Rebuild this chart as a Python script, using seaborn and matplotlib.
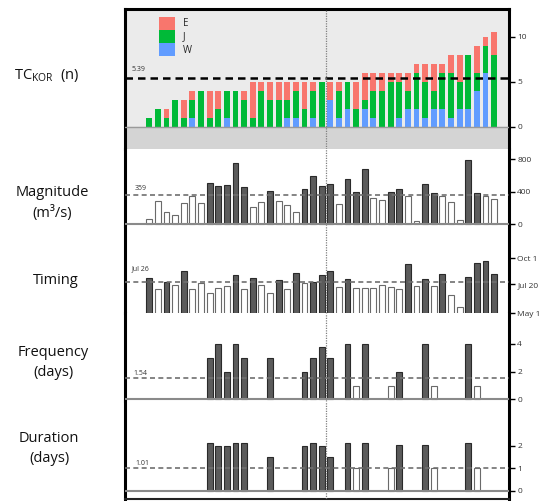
import numpy as np
import pandas as pd
import matplotlib
matplotlib.use("Agg")
import matplotlib.pyplot as plt
import seaborn as sns
from matplotlib.patches import Patch

sns.set_theme(style="white")
plt.rcParams['font.family'] = ['Open Sans', 'DejaVu Sans']
plt.rcParams['mathtext.fontset'] = 'custom'
plt.rcParams['mathtext.rm'] = 'Open Sans'

# ---------------- data ----------------
seasons = list(range(1, 42))
tc_W = [0,0,0,0,0,1,0,0,0,1,0,0,0,0,0,0,1,1,0,1,0,3,1,2,0,2,1,0,0,1,2,2,1,2,2,1,2,2,4,6,0]
tc_J = [1,2,1,3,1,2,4,1,2,3,4,3,1,4,3,3,2,3,2,3,5,0,3,3,2,1,3,4,5,4,2,4,4,2,4,5,3,6,2,3,8]
tc_E = [0,0,1,0,2,1,0,3,2,0,0,1,4,1,2,2,2,1,3,1,0,2,1,0,3,3,2,2,1,1,2,1,2,3,1,2,3,0,3,1,2.5]
magnitude = [70,287,156,111,267,353,258,508,467,484,754,455,209,275,410,287,234,156,435,599,
             470,490,250,562,398,677,328,303,398,435,353,41,500,390,353,275,49,795,381,353,312]
timing_doy = [220,188,208,200,238,188,205,178,191,197,227,188,220,200,178,213,188,233,206,208,
              227,239,194,215,191,190,192,200,194,188,257,196,217,196,229,172,138,222,261,265,231]
frequency = [0,0,0,0,0,0,0,3,4,2,4,3,0,0,3,0,0,0,2,3,3.8,3,0,4,1,4,0,0,1,2,0,0,4,1,0,0,0,4,1,0,0]
duration = [0,0,0,0,0,0,0,2.1,2.0,2.0,2.1,2.1,0,0,1.5,0,0,0,2.0,2.1,2.0,1.5,0,2.1,1.0,2.1,0,0,1.0,2.05,
            0,0,2.05,1.0,0,0,0,2.1,1.0,0,0]

tc_mean, tc_mean_label = 5.39, "5.39"
mag_mean, mag_mean_label = 359, "359"
tim_mean, tim_mean_label = 207, "Jul 26"
freq_mean, freq_mean_label = 1.54, "1.54"
dur_mean, dur_mean_label = 1.01, "1.01"

tim_ticks = [121, 201, 274]
tim_ticklabels = ["May 1", "Jul 20", "Oct 1"]

split_after = 20.5
col_E, col_J, col_W = "#F8766D", "#00BA38", "#619CFF"

# ---------------- figure ----------------
W_PX, H_PX = 552, 501
fig = plt.figure(figsize=(W_PX/100, H_PX/100), dpi=100)
L, R = 125, 509

def add_ax(top, bottom):
    return fig.add_axes([L/W_PX, 1-bottom/H_PX, (R-L)/W_PX, (bottom-top)/H_PX])

ax0 = add_ax(9, 149)
ax1 = add_ax(149, 226)
ax2 = add_ax(226, 313)
ax3 = add_ax(313, 401)
ax4 = add_ax(401, 499)
axes = [ax0, ax1, ax2, ax3, ax4]

BW = 0.68
order = seasons

# --- TC stacked (layered cumulative) ---
df_tc = pd.DataFrame({"season": seasons, "W": tc_W, "J": tc_J, "E": tc_E})
df_tc["WJ"] = df_tc["W"] + df_tc["J"]
df_tc["WJE"] = df_tc["WJ"] + df_tc["E"]
ax0.set_facecolor("#ebebeb")
ax0.axhspan(-10, 0, color="#d4d4d4", zorder=0)
for col, c in [("WJE", col_E), ("WJ", col_J), ("W", col_W)]:
    sub = df_tc[df_tc[col] > 0]
    sns.barplot(data=sub, x="season", y=col, order=order, color=c, saturation=1,
                width=BW, errorbar=None, linewidth=0, ax=ax0)
ax0.axhline(0, color="#9a9a9a", lw=1.0, zorder=3)
ax0.axhline(tc_mean, color="black", lw=1.8, ls=(0, (3, 2)), zorder=4)
ax0.set_ylim(-2.48, 13.08)
ax0.set_yticks([0, 5, 10])
ax0.text(-2.05, 6.4, tc_mean_label, fontsize=5, color="#333", ha="left", va="center")
leg = ax0.legend(handles=[Patch(facecolor=col_E, edgecolor="none"),
                          Patch(facecolor=col_J, edgecolor="none"),
                          Patch(facecolor=col_W, edgecolor="none")],
                 labels=["E", "J", "W"], loc="upper left", bbox_to_anchor=(0.088, 0.945),
                 frameon=False, fontsize=7, handlelength=1.65, handleheight=1.65,
                 labelspacing=0.05, handletextpad=0.8, borderpad=0, borderaxespad=0)

def draw_panel(ax, vals, mean):
    df = pd.DataFrame({"season": seasons, "v": vals})
    df = df[df["v"] > 0]
    filled = df[df["v"] > mean]
    hollow = df[df["v"] <= mean]
    sns.barplot(data=filled, x="season", y="v", order=order, color="#5b5b5b", saturation=1,
                width=BW, errorbar=None, edgecolor="#2a2a2a", linewidth=0.8, ax=ax)
    sns.barplot(data=hollow, x="season", y="v", order=order, color="white", saturation=1,
                width=BW, errorbar=None, edgecolor="#6a6a6a", linewidth=0.8, ax=ax)
    ax.axhline(mean, color="#707070", lw=1.2, ls=(0, (3, 2)), zorder=4)

draw_panel(ax1, magnitude, mag_mean)
ax1.axhline(0, color="#8a8a8a", lw=1.5, zorder=3)
ax1.set_ylim(-21, 927)
ax1.set_yticks([0, 400, 800])
ax1.text(-1.66, 443, mag_mean_label, fontsize=5, color="#333", ha="left", va="center")

draw_panel(ax2, timing_doy, tim_mean)
ax2.set_ylim(121, 364)
ax2.set_yticks(tim_ticks)
ax2.set_yticklabels(tim_ticklabels)
ax2.text(-2.05, 244, tim_mean_label, fontsize=5, color="#333", ha="left", va="center")

draw_panel(ax3, frequency, freq_mean)
ax3.axhline(0, color="#8a8a8a", lw=1.5, zorder=3)
ax3.set_ylim(-0.11, 6.22)
ax3.set_yticks([0, 2, 4])
ax3.text(-1.85, 1.87, freq_mean_label, fontsize=5, color="#333", ha="left", va="center")

draw_panel(ax4, duration, dur_mean)
ax4.axhline(0, color="#8a8a8a", lw=1.5, zorder=3)
ax4.set_ylim(-0.37, 3.99)
ax4.set_yticks([0, 1, 2])
ax4.text(-1.66, 1.23, dur_mean_label, fontsize=5, color="#333", ha="left", va="center")

for i, ax in enumerate(axes):
    ax.set_xlim(-2.82, 41.73)
    ax.set_xticks([])
    ax.set_xlabel("")
    ax.set_ylabel("")
    ax.axvline(split_after, color="#808080", lw=0.9, ls=(0, (1, 1)), zorder=5)
    ax.yaxis.tick_right()
    ax.tick_params(axis="y", which="both", left=False, right=True, labelleft=False,
                   labelright=True, direction="out", length=4, width=1, pad=2,
                   labelsize=6, colors="#333", color="black")
    for s in ["left", "right"]:
        ax.spines[s].set_visible(True)
        ax.spines[s].set_linewidth(2.2)
        ax.spines[s].set_color("black")
    ax.spines["top"].set_visible(i == 0)
    ax.spines["bottom"].set_visible(i == 4)
    if i == 0:
        ax.spines["top"].set_linewidth(2.2)
        ax.spines["top"].set_color("black")
    if i == 4:
        ax.spines["bottom"].set_linewidth(1.5)
        ax.spines["bottom"].set_color("#222")
    if i != 0:
        ax.set_facecolor("white")

# ---------------- left labels ----------------
fs = 10.5
def ftxt(x, y, s, **kw):
    fig.text(x/W_PX, 1-y/H_PX, s, ha="center", va="center", fontsize=fs, color="#111", **kw)

ftxt(47, 76, r"TC$_{\mathrm{KOR}}$  (n)")
ftxt(52, 193, "Magnitude")
ftxt(52, 213, "(m³/s)")
ftxt(56, 280, "Timing")
ftxt(53, 352, "Frequency")
ftxt(53, 372, "(days)")
ftxt(49, 438, "Duration")
ftxt(49, 459, "(days)")

fig.savefig("out.png", dpi=100)
